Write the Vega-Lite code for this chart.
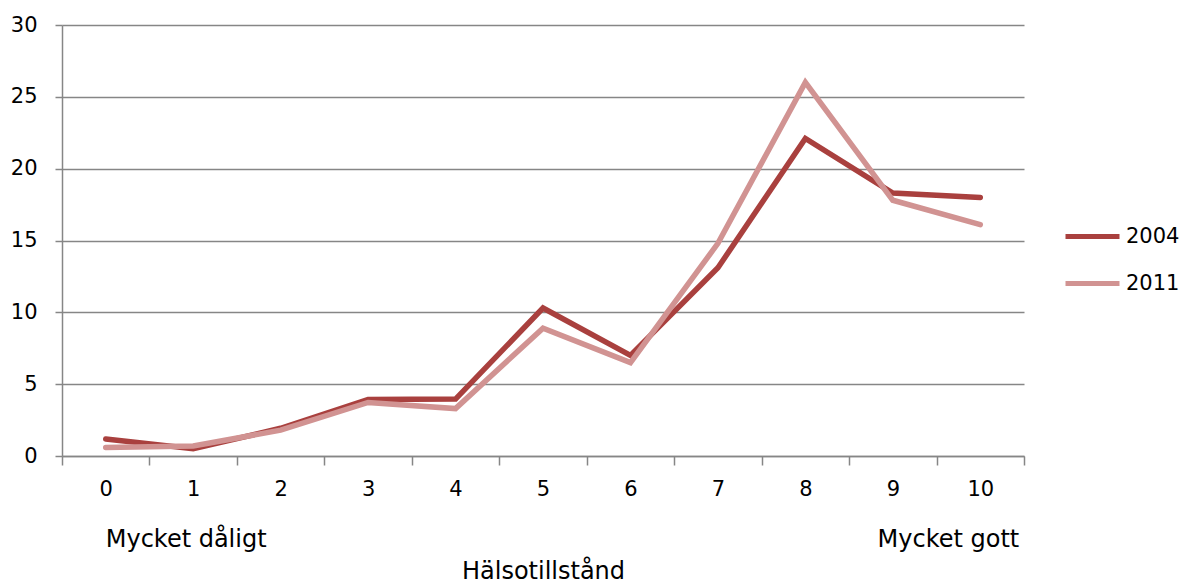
{
  "$schema": "https://vega.github.io/schema/vega-lite/v6.json",
  "width": 962,
  "height": 431,
  "autosize": {"type": "none"},
  "padding": {"left": 62, "top": 25, "right": 159, "bottom": 127},
  "background": "white",
  "config": {
    "view": {"stroke": null},
    "font": "DejaVu Sans",
    "axis": {"labelFont": "DejaVu Sans", "titleFont": "DejaVu Sans", "labelColor": "black", "titleColor": "black"}
  },
  "datasets": {
    "series": [
      {"cat": "0", "year": "2004", "value": 1.18},
      {"cat": "1", "year": "2004", "value": 0.5},
      {"cat": "2", "year": "2004", "value": 1.93},
      {"cat": "3", "year": "2004", "value": 3.94},
      {"cat": "4", "year": "2004", "value": 3.96},
      {"cat": "5", "year": "2004", "value": 10.3},
      {"cat": "6", "year": "2004", "value": 7.0},
      {"cat": "7", "year": "2004", "value": 13.1},
      {"cat": "8", "year": "2004", "value": 22.1},
      {"cat": "9", "year": "2004", "value": 18.3},
      {"cat": "10", "year": "2004", "value": 18.0},
      {"cat": "0", "year": "2011", "value": 0.6},
      {"cat": "1", "year": "2011", "value": 0.7},
      {"cat": "2", "year": "2011", "value": 1.8},
      {"cat": "3", "year": "2011", "value": 3.73},
      {"cat": "4", "year": "2011", "value": 3.3},
      {"cat": "5", "year": "2011", "value": 8.9},
      {"cat": "6", "year": "2011", "value": 6.5},
      {"cat": "7", "year": "2011", "value": 14.8},
      {"cat": "8", "year": "2011", "value": 26.0},
      {"cat": "9", "year": "2011", "value": 17.8},
      {"cat": "10", "year": "2011", "value": 16.1}
    ],
    "notes": [
      {"cat": "0", "text": "Mycket dåligt", "side": "left"},
      {"cat": "10", "text": "Mycket gott", "side": "right"}
    ]
  },
  "layer": [
    {
      "data": {"name": "series"},
      "mark": {"type": "line", "strokeWidth": 5.5, "strokeCap": "round", "strokeJoin": "miter"},
      "encoding": {
        "x": {
          "field": "cat", "type": "ordinal", "sort": ["0","1","2","3","4","5","6","7","8","9","10"],
          "scale": {"type": "band", "paddingInner": 0, "paddingOuter": 0},
          "axis": {
            "title": "Hälsotillstånd", "titleFontSize": 24, "titleFontWeight": "normal", "titlePadding": 60,
            "labelAngle": 0, "labelFontSize": 21, "labelPadding": 13,
            "tickBand": "extent", "tickSize": 9, "tickColor": "#868686", "tickWidth": 1.5,
            "domainColor": "#868686", "domainWidth": 1.5, "grid": false
          }
        },
        "y": {
          "field": "value", "type": "quantitative",
          "scale": {"domain": [0, 30], "nice": false},
          "axis": {
            "title": null, "values": [0,5,10,15,20,25,30], "labelFontSize": 21, "labelPadding": 18,
            "tickSize": 7, "tickColor": "#868686", "tickWidth": 1.5,
            "domainColor": "#868686", "domainWidth": 1.5,
            "grid": true, "gridColor": "#868686", "gridWidth": 1.5
          }
        },
        "color": {
          "field": "year", "type": "nominal",
          "scale": {"domain": ["2004", "2011"], "range": ["#A9403E", "#D19392"]},
          "legend": {
            "title": null, "orient": "none", "legendX": 1001, "legendY": 182,
            "symbolType": "stroke", "symbolSize": 2916, "symbolStrokeWidth": 5,
            "labelFontSize": 21, "labelFont": "DejaVu Sans", "labelColor": "black", "rowPadding": 7, "labelOffset": 4
          }
        }
      }
    },
    {
      "data": {"name": "notes"},
      "transform": [{"filter": "datum.side == 'left'"}],
      "mark": {"type": "text", "fontSize": 24, "baseline": "middle", "align": "left", "dy": 84, "font": "DejaVu Sans", "color": "black"},
      "encoding": {
        "x": {"field": "cat", "type": "ordinal", "sort": ["0","1","2","3","4","5","6","7","8","9","10"], "bandPosition": 0.5},
        "y": {"datum": 0, "type": "quantitative"},
        "text": {"field": "text"}
      }
    },
    {
      "data": {"name": "notes"},
      "transform": [{"filter": "datum.side == 'right'"}],
      "mark": {"type": "text", "fontSize": 24, "baseline": "middle", "align": "right", "dy": 84, "dx": 39, "font": "DejaVu Sans", "color": "black"},
      "encoding": {
        "x": {"field": "cat", "type": "ordinal", "sort": ["0","1","2","3","4","5","6","7","8","9","10"], "bandPosition": 0.5},
        "y": {"datum": 0, "type": "quantitative"},
        "text": {"field": "text"}
      }
    }
  ]
}
